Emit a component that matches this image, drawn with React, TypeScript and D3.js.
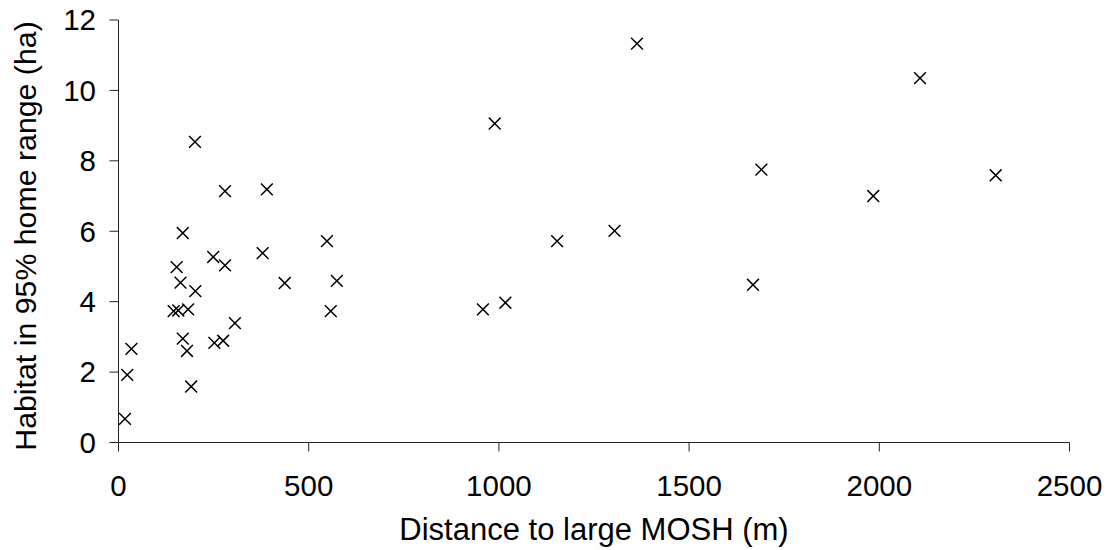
import React from "react";
import * as d3 from "d3";

// Distance from each home range to the nearest large MOSH (m)
const distance: number[] = [
  17, 23, 34, 201, 280, 390, 169, 548, 379, 249, 280, 153, 163, 437, 574, 202,
  145, 157, 183, 558, 306, 169, 252, 275, 180, 191, 989, 958, 1017, 1363, 2107,
  1690, 2306, 1984, 1153, 1304, 1668,
];

// Habitat area within the 95% home range (ha)
const habitat: number[] = [
  0.67, 1.92, 2.66, 8.54, 7.14, 7.19, 5.95, 5.72, 5.38, 5.27, 5.03, 4.98, 4.54,
  4.53, 4.59, 4.3, 3.73, 3.75, 3.78, 3.73, 3.39, 2.95, 2.83, 2.89, 2.6, 1.59,
  9.06, 3.78, 3.97, 11.33, 10.35, 7.75, 7.59, 7.0, 5.72, 6.01, 4.48,
];

const xTicks: number[] = [0, 500, 1000, 1500, 2000, 2500];
const yTicks: number[] = [0, 2, 4, 6, 8, 10, 12];

const xTitle = "Distance to large MOSH (m)";
const yTitle = "Habitat in 95% home range (ha)";

const W = 1111;
const H = 550;
const left = 118.5;
const right = 1069.5;
const top = 20;
const bottom = 442.5;
const tickLen = 9;
const font = "Arial, 'Liberation Sans', sans-serif";

export default function App() {
  const x = d3.scaleLinear().domain([0, 2500]).range([left, right]);
  const y = d3.scaleLinear().domain([0, 12]).range([bottom, top]);
  const r = 5.9;
  const points = distance.map((d, i) => ({ d, h: habitat[i] }));

  return (
    <svg
      width={W}
      height={H}
      style={{ position: "absolute", left: 0, top: 0, background: "#fff" }}
      fontFamily={font}
    >
      {/* axes */}
      <line x1={left} x2={left} y1={top} y2={bottom} stroke="#222" strokeWidth={1} />
      <line x1={left} x2={right} y1={bottom} y2={bottom} stroke="#222" strokeWidth={1} />
      {yTicks.map((t) => (
        <g key={"y" + t}>
          <line x1={left - tickLen} x2={left} y1={y(t)} y2={y(t)} stroke="#222" strokeWidth={1} />
          <text x={96} y={y(t)} dy="0.35em" textAnchor="end" fontSize={29.5} fill="#000">
            {t}
          </text>
        </g>
      ))}
      {xTicks.map((t) => (
        <g key={"x" + t}>
          <line x1={x(t)} x2={x(t)} y1={bottom} y2={bottom + tickLen} stroke="#222" strokeWidth={1} />
          <text x={x(t)} y={496} textAnchor="middle" fontSize={29.5} fill="#000">
            {t}
          </text>
        </g>
      ))}
      {/* axis titles */}
      <text x={(left + right) / 2} y={540} textAnchor="middle" fontSize={31} fill="#000">
        {xTitle}
      </text>
      <text
        transform={`translate(36, 236) rotate(-90)`}
        textAnchor="middle"
        fontSize={30.3}
        fill="#000"
      >
        {yTitle}
      </text>
      {/* cross markers */}
      {points.map((p, i) => {
        const cx = x(p.d);
        const cy = y(p.h);
        return (
          <path
            key={i}
            d={`M${cx - r},${cy - r}L${cx + r},${cy + r}M${cx - r},${cy + r}L${cx + r},${cy - r}`}
            stroke="#000"
            strokeWidth={1.5}
            fill="none"
          />
        );
      })}
    </svg>
  );
}
